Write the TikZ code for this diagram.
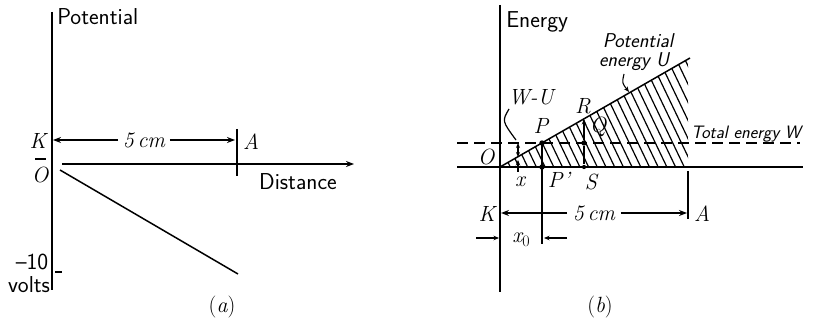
\documentclass[tikz,border=0pt]{standalone}
\usetikzlibrary{arrows.meta}
\begin{document}
\begin{tikzpicture}[x=1pt,y=-1pt, line width=1.5pt,
  lab/.style={font=\fontsize{23}{25}\selectfont\sffamily, inner sep=0.5pt},
  slab/.style={font=\fontsize{20}{20}\selectfont\sffamily\itshape, inner sep=1pt},
  ital/.style={font=\fontsize{22}{24}\selectfont\itshape, inner sep=1pt},
  arr/.style={-{Stealth[length=8pt,width=6pt]}},
  sarr/.style={-{Stealth[length=5.5pt,width=4.5pt]}, line width=1.1pt},
  dsarr/.style={{Stealth[length=5pt,width=4pt]}-{Stealth[length=5pt,width=4pt]}, line width=1.1pt},
  pt/.style={circle,fill,inner sep=1.9pt},
  thin/.style={line width=1.2pt}]
\useasboundingbox (0,0) rectangle (816,323);

% ---------------- panel (a)
\coordinate (aT) at (52,12); \coordinate (aB) at (52,290);
\draw (aT) -- (aB);
\node[lab,anchor=west] (pot) at (56,17) {Potential};
\coordinate (aK) at (53,140); \coordinate (aA) at (235,140);
\node[ital] (K1) at (38,141) {K};
\node[ital,fill=white,inner xsep=4pt] (cm1) at (144,140) {5\,cm};
\draw[arr] (cm1.west) -- (aK);
\draw[arr] (cm1.east) -- (aA);
\coordinate (At) at (237,129); \coordinate (Ab) at (237,176);
\draw (At) -- (Ab);
\node[ital] (A1) at (251,142) {A};
\coordinate (h0) at (62,164); \coordinate (h1) at (354,164);
\draw[arr] (h0) -- (h1);
\node[lab] (dist) at (298,182) {Distance};
\coordinate (z0) at (35,159); \coordinate (z1) at (46,159);
\draw[thin] (z0) -- (z1);
\node[ital] (O1) at (40,175) {O};
\coordinate (p0) at (60,170); \coordinate (p1) at (238,274);
\draw (p0) -- (p1);
\coordinate (t0) at (55,272); \coordinate (t1) at (62,272);
\draw (t0) -- (t1);
\node[lab] (m10) at (32,262) {--10};
\node[lab] (volts) at (29,285) {volts};
\node[ital] (capa) at (222,307) {{\upshape(}a{\upshape)}};

% ---------------- panel (b)
\coordinate (bT) at (500,5); \coordinate (bB) at (500,292);
\draw (bT) -- (bB);
\node[lab,anchor=west] (energy) at (505,22) {Energy};
\coordinate (bh0) at (457,167); \coordinate (bh1) at (803,167);
\draw (bh0) -- (bh1);
\coordinate (d0) at (457,143); \coordinate (d1) at (800,143);
\draw[thin,dash pattern=on 11pt off 6pt] (d0) -- (d1);
\coordinate (bO) at (500,167); \coordinate (Uend) at (690,58);
\coordinate (Acorner) at (688,167);
\begin{scope}
  \clip (bO) -- (688,59.1) -- (Acorner) -- cycle;
  \foreach \k in {0,...,50} {
    \draw[thin] (503+8.7*\k,170) -- ++(-58,-121);
  }
\end{scope}
\draw (bO) -- (Uend);
\coordinate (bAt) at (688,171); \coordinate (bAb) at (688,219);
\draw (bAt) -- (bAb);
\node[ital] (A2) at (702,214) {A};
\node[ital] (K2) at (487,214) {K};
\coordinate (bK) at (501,213); \coordinate (bA) at (687,213);
% P vertical
\coordinate (Pv) at (542,143); \coordinate (Pb) at (542,244);
\draw (Pv) -- (Pb);
\node[ital,fill=white,inner xsep=5pt] (cm2) at (594,213) {5\,cm};
\draw[arr] (cm2.west) -- (bK);
\draw[arr] (cm2.east) -- (bA);
% points
\node[pt] (P) at (542,143) {};
\node[pt] (Pp) at (542,167) {};
\node[pt] (Q) at (584,143) {};
\node[pt,inner sep=1.5pt] (S) at (584,167) {};
\coordinate (R) at (584,119);
\draw[thin] (Q) -- (S);
\draw[sarr] (Q) -- (R);
\node[ital] (Pl) at (541,126) {P};
\node[ital] (Ppl) at (559,180) {P\kern1pt\textquoteright};
\node[ital] (Ql) at (598,127) {Q};
\node[ital] (Rl) at (583,106) {R};
\node[ital] (Sl) at (591,182) {S};
\node[ital] (xl) at (520,182) {x};
\node[ital] (Ol) at (486,157) {O};
% W-U
\node[ital] (WU) at (531,97) {W-U};
\coordinate (WUa) at (509,109); \coordinate (WUb) at (516,140);
\draw[thin] (WUa) .. controls (502,121) .. (WUb);
\coordinate (wu0) at (518,143); \coordinate (wu1) at (518,157);
\draw[dsarr] (wu0) -- (wu1);
\coordinate (xa) at (518,172); \coordinate (xb) at (518,160);
\draw[sarr] (xa) -- (xb);
% x0
\coordinate (x0a) at (476,238); \coordinate (x0b) at (499,238);
\coordinate (x0c) at (567,238); \coordinate (x0d) at (544,238);
\draw[sarr] (x0a) -- (x0b);
\draw[sarr] (x0c) -- (x0d);
\node[ital] (x0l) at (521,240) {x\raisebox{-4pt}{\upshape\fontsize{16}{16}\selectfont 0}};
% labels
\node[slab,anchor=base] (PE1) at (638,48) {Potential};
\node[slab,anchor=base] (PE2) at (634,67) {energy U};
\coordinate (PEa) at (624,74); \coordinate (PEb) at (629,92);
\draw[sarr] (PEa) .. controls (622,83) .. (PEb);
\node[slab,font=\fontsize{18}{20}\selectfont\sffamily\itshape,anchor=base] (TE) at (746,139) {Total energy W};
\node[ital] (capb) at (600,307) {{\upshape(}b{\upshape)}};
\end{tikzpicture}
\end{document}
